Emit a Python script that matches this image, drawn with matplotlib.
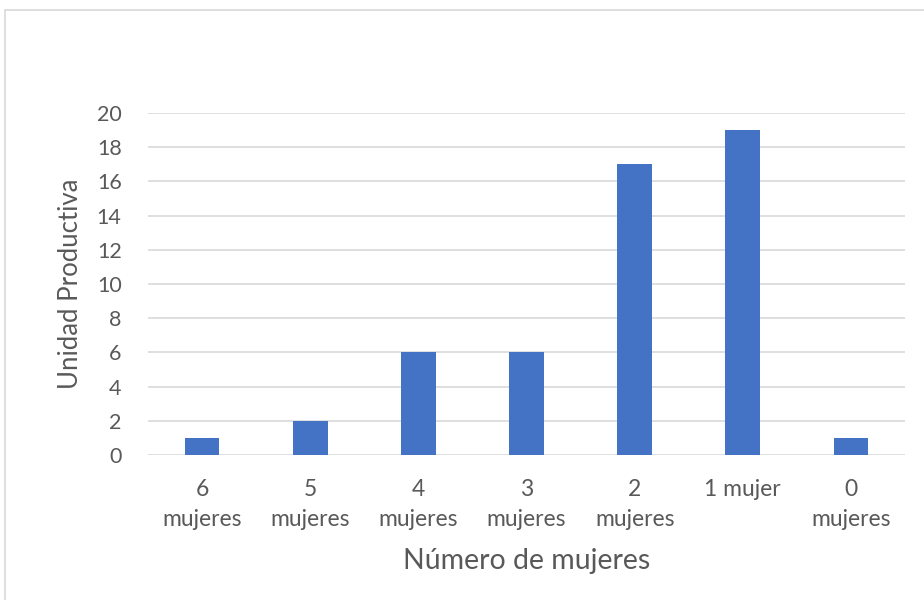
import matplotlib
matplotlib.use("Agg")
import matplotlib.pyplot as plt
from matplotlib.patches import Rectangle

categories = ["6\nmujeres", "5\nmujeres", "4\nmujeres", "3\nmujeres",
              "2\nmujeres", "1 mujer\n", "0\nmujeres"]
values = [1, 2, 6, 6, 17, 19, 1]
y_ticks = [0, 2, 4, 6, 8, 10, 12, 14, 16, 18, 20]

plt.rcParams['font.family'] = ['Lato', 'DejaVu Sans']

fig = plt.figure(figsize=(9.24, 6.0), dpi=100)
fig.patch.set_facecolor("white")

# chart frame
fig.patches.append(Rectangle((5 / 924, -0.01), 1.0, (590 / 600) + 0.01,
                             transform=fig.transFigure, fill=False,
                             edgecolor="#d9d9d9", linewidth=1.2))

ax = fig.add_axes([148 / 924, 145 / 600, 757 / 924, 342 / 600])
x = range(len(categories))
ax.bar(x, values, width=0.32, color="#4472C4", zorder=3)

ax.set_ylim(0, 20)
ax.set_xlim(-0.5, len(categories) - 0.5)
ax.set_yticks(y_ticks)
ax.set_xticks(list(x))
ax.set_xticklabels(categories, linespacing=1.55, fontsize=16.5)
ax.yaxis.grid(True, color="#d9d9d9", linewidth=1.2, zorder=0)
ax.set_axisbelow(True)
for s in ax.spines.values():
    s.set_visible(False)
ax.tick_params(axis="both", length=0, colors="#595959")
ax.tick_params(axis="y", pad=19, labelsize=15.5)
ax.tick_params(axis="x", pad=17)

ax.set_ylabel("Unidad Productiva", fontsize=18.5, color="#595959", labelpad=10)
ax.set_xlabel("Número de mujeres", fontsize=20.5, color="#595959", labelpad=13)

fig.savefig("out.png", dpi=100)
